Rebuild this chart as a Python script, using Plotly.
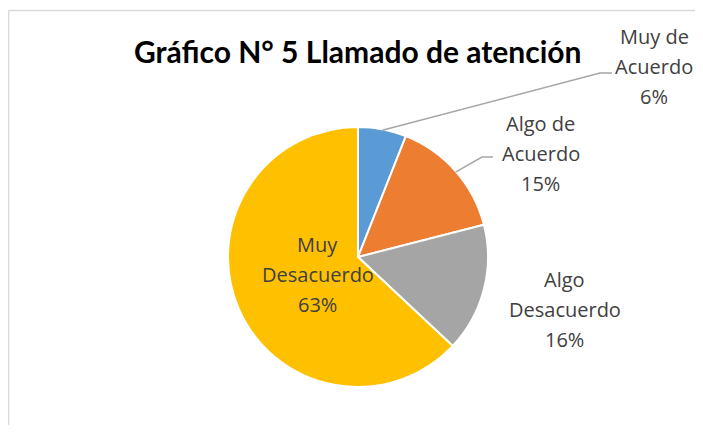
import math
import plotly.graph_objects as go

categories = ["Muy de Acuerdo", "Algo de Acuerdo", "Algo Desacuerdo", "Muy Desacuerdo"]
label_lines = [["Muy de", "Acuerdo"], ["Algo de", "Acuerdo"], ["Algo", "Desacuerdo"], ["Muy", "Desacuerdo"]]
values = [6, 15, 16, 63]
colors = ["#5B9BD5", "#ED7D31", "#A5A5A5", "#FFC000"]
title_text = "Gráfico N° 5 Llamado de atención"

OFF = 8  # page body margin
W, H = 703 - 2 * OFF, 433 - 2 * OFF
CX, CY, R = 358, 257, 130  # pie centre/radius in page pixels

def px(x, y):
    return (x - OFF) / W, 1 - (y - OFF) / H

dom_x = [px(CX - R, 0)[0], px(CX + R, 0)[0]]
dom_y = [px(0, CY + R)[1], px(0, CY - R)[1]]

fig = go.Figure(go.Pie(
    labels=categories, values=values, sort=False, direction="clockwise", rotation=0,
    marker=dict(colors=colors, line=dict(color="white", width=2)),
    textinfo="none", hoverinfo="label+percent", domain=dict(x=dom_x, y=dom_y),
    showlegend=False,
))

label_style = [
    dict(dx=272, dy=-63, leader=[(600, 73), (612, 73)]),
    dict(dx=85, dy=-18, leader=[(482, 157), (493, 157)]),
    dict(dx=81, dy=20, leader=None),
    dict(dx=79, dy=-34, leader=None),
]

total = sum(values)
cum = 0
annotations = []
shapes = []
for cat, lines, v, st in zip(categories, label_lines, values, label_style):
    mid = (cum + v / 2) / total * 2 * math.pi
    cum += v
    ex = CX + R * math.sin(mid)
    ey = CY - R * math.cos(mid)
    lx, ly = ex + st["dx"], ey + st["dy"]
    pct = f"{round(100 * v / total)}%"
    all_lines = lines + [pct]
    n = len(all_lines)
    for i, t in enumerate(all_lines):
        yy = ly + (i - (n - 1) / 2) * 30
        x0, y0 = px(lx, yy)
        annotations.append(dict(x=x0, y=y0, xref="paper", yref="paper", text=t, showarrow=False,
                                xanchor="center", yanchor="middle",
                                font=dict(family="Open Sans", size=20, color="#404040")))
    if st["leader"]:
        pts = [(ex, ey + 1)] + st["leader"]
        path = "M " + " L ".join(f"{px(a, b)[0]},{px(a, b)[1]}" for a, b in pts)
        shapes.append(dict(type="path", xref="paper", yref="paper", path=path,
                           line=dict(color="#A6A6A6", width=1.5)))

tx, ty = px(358, 51)
annotations.append(dict(x=tx, y=ty, xref="paper", yref="paper", text=f"<b>{title_text}</b>",
                        showarrow=False, xanchor="center", yanchor="middle",
                        font=dict(family="Lato", size=30, color="#000000")))

# chart area border (top and left visible)
bx0, by0 = px(8.5, 10.5)
shapes.append(dict(type="line", xref="paper", yref="paper", x0=bx0, y0=by0, x1=1.01, y1=by0,
                   line=dict(color="#D9D9D9", width=1.5)))
shapes.append(dict(type="line", xref="paper", yref="paper", x0=bx0, y0=by0, x1=bx0, y1=-0.01,
                   line=dict(color="#D9D9D9", width=1.5)))

fig.update_layout(width=W, height=H, margin=dict(l=0, r=0, t=0, b=0),
                  paper_bgcolor="white", plot_bgcolor="white",
                  annotations=annotations, shapes=shapes)
fig.write_html("out.html")
